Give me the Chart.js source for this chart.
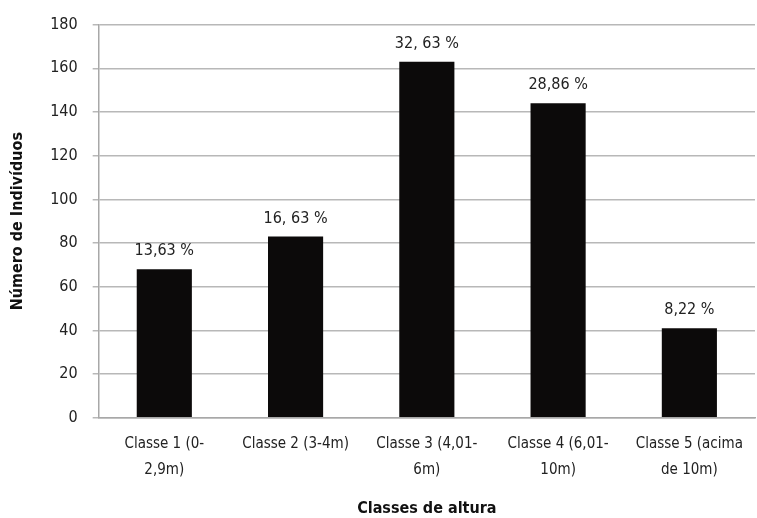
<!DOCTYPE html>
<html>
<head>
<meta charset="utf-8">
<script src="https://cdn.jsdelivr.net/npm/chart.js@4/dist/chart.umd.min.js"></script>
<style>
  body { margin: 0; background: #fff; }
</style>
</head>
<body>
<canvas id="alturaChart" width="757" height="518"></canvas>
<script>
// Dados do gráfico
const classes = [
    ['Classe 1 (0-', '2,9m)'],
    'Classe 2 (3-4m)',
    ['Classe 3 (4,01-', '6m)'],
    ['Classe 4 (6,01-', '10m)'],
    ['Classe 5 (acima', 'de 10m)']
];
const individuos = [68, 83, 163, 144, 41];
const percentuais = ['13,63 %', '16, 63 %', '32, 63 %', '28,86 %', '8,22 %'];
const yTicks = [0, 20, 40, 60, 80, 100, 120, 140, 160, 180];

const fontFamily = '"DejaVu Sans Condensed", "Liberation Sans Narrow", "Open Sans", sans-serif';

// Rótulos de porcentagem acima das barras
const percentLabels = {
    id: 'percentLabels',
    afterDatasetsDraw(chart) {
        const ctx = chart.ctx;
        const meta = chart.getDatasetMeta(0);
        ctx.save();
        ctx.font = '16px ' + fontFamily;
        ctx.fillStyle = '#222';
        ctx.textAlign = 'center';
        ctx.textBaseline = 'bottom';
        meta.data.forEach((bar, i) => {
            ctx.fillText(percentuais[i], bar.x, bar.y - 10);
        });
        ctx.restore();
    }
};

document.addEventListener('DOMContentLoaded', function () {
    const ctx = document.getElementById('alturaChart').getContext('2d');
    new Chart(ctx, {
        type: 'bar',
        data: {
            labels: classes,
            datasets: [{
                data: individuos,
                backgroundColor: '#0c0a0a',
                borderWidth: 0,
                barPercentage: 0.42,
                categoryPercentage: 1
            }]
        },
        options: {
            responsive: false,
            animation: false,
            layout: {
                padding: { top: 4, right: 2, left: 4, bottom: 0 }
            },
            plugins: {
                legend: { display: false },
                tooltip: { enabled: false }
            },
            scales: {
                y: {
                    min: 0,
                    max: 180,
                    afterBuildTicks: axis => {
                        axis.ticks = yTicks.map(v => ({ value: v }));
                    },
                    grid: {
                        color: '#b8b8b8',
                        lineWidth: 1.5,
                        tickLength: 6
                    },
                    border: { color: '#a8a8a8', width: 1.5 },
                    ticks: {
                        color: '#222',
                        padding: 15,
                        font: { family: fontFamily, size: 16 }
                    },
                    title: {
                        display: true,
                        text: 'Número de Indivíduos',
                        color: '#111',
                        font: { family: fontFamily, size: 16, weight: 'bold' },
                        padding: { bottom: 8 }
                    }
                },
                x: {
                    grid: { display: false },
                    border: { color: '#a8a8a8', width: 1.5 },
                    ticks: {
                        color: '#222',
                        maxRotation: 0,
                        autoSkip: false,
                        padding: 6,
                        font: { family: fontFamily, size: 15, lineHeight: 1.7 }
                    },
                    title: {
                        display: true,
                        text: 'Classes de altura',
                        color: '#111',
                        font: { family: fontFamily, size: 16, weight: 'bold' },
                        padding: { top: 10, bottom: 0 }
                    }
                }
            }
        },
        plugins: [percentLabels]
    });
});
</script>
</body>
</html>
